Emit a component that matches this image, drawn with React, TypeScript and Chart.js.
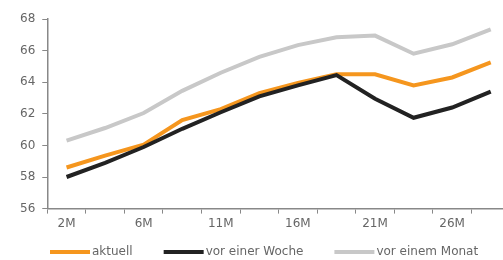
import React, { useEffect, useRef } from "react";
import { Chart, registerables } from "chart.js";

Chart.register(...registerables);

const categories = ["2M", "4M", "6M", "9M", "11M", "14M", "16M", "19M", "21M", "24M", "26M", "29M"];
const aktuell = [58.6, 59.35, 60.05, 61.6, 62.3, 63.3, 63.95, 64.5, 64.5, 63.8, 64.3, 65.25];
const vorEinerWoche = [58.0, 58.9, 59.9, 61.05, 62.1, 63.1, 63.8, 64.45, 62.95, 61.75, 62.4, 63.4];
const vorEinemMonat = [60.3, 61.1, 62.05, 63.45, 64.6, 65.6, 66.35, 66.85, 66.95, 65.8, 66.4, 67.35];
const yTicks = [56, 58, 60, 62, 64, 66, 68];

const FONT_FAMILY = "'DejaVu Sans', sans-serif";

const lineLegend = {
  id: "lineLegend",
  afterDraw(chart: any) {
    const ctx = chart.ctx;
    ctx.save();
    ctx.font = `12px ${FONT_FAMILY}`;
    ctx.textBaseline = "middle";
    ctx.textAlign = "left";
    const y = 252;
    let x = 50;
    chart.data.datasets.forEach((d: any) => {
      ctx.fillStyle = d.borderColor;
      ctx.fillRect(x, y - 2, 40, 4);
      ctx.fillStyle = "#666";
      ctx.fillText(d.label, x + 42, y);
      x += 42 + ctx.measureText(d.label).width + 31;
    });
    ctx.restore();
  },
};

export default function App() {
  const ref = useRef<HTMLCanvasElement | null>(null);
  useEffect(() => {
    if (!ref.current) return;
    const font = { family: FONT_FAMILY, size: 12 };
    const chart = new Chart(ref.current, {
      type: "line",
      data: {
        labels: categories,
        datasets: [
          { label: "aktuell", data: aktuell, borderColor: "#f5961e", backgroundColor: "#f5961e", borderWidth: 4, pointRadius: 0, tension: 0, order: 2 },
          { label: "vor einer Woche", data: vorEinerWoche, borderColor: "#222222", backgroundColor: "#222222", borderWidth: 4, pointRadius: 0, tension: 0, order: 1 },
          { label: "vor einem Monat", data: vorEinemMonat, borderColor: "#c8c8c8", backgroundColor: "#c8c8c8", borderWidth: 4, pointRadius: 0, tension: 0, order: 3 },
        ],
      },
      plugins: [lineLegend],
      options: {
        animation: false,
        responsive: true,
        maintainAspectRatio: false,
        layout: { padding: { left: 13, right: 0, top: 19, bottom: 26 } },
        plugins: {
          tooltip: { enabled: false },
          legend: { display: false },
        },
        scales: {
          x: {
            offset: true,
            grid: { drawOnChartArea: false, offset: true, tickLength: 5, color: "#888", lineWidth: 1 },
            border: { color: "#888", width: 1.5 },
            ticks: {
              font,
              color: "#666",
              autoSkip: false,
              maxRotation: 0,
              padding: 3,
              callback: (_v: any, i: number) => (i % 2 === 0 ? categories[i] : ""),
            },
          },
          y: {
            min: 56,
            max: 68,
            afterBuildTicks: (axis: any) => {
              axis.ticks = yTicks.map((v) => ({ value: v }));
            },
            grid: { drawOnChartArea: false, tickLength: 5, color: "#888", lineWidth: 1 },
            border: { color: "#888", width: 1.5 },
            ticks: { font, color: "#666", padding: 7 },
          },
        },
      },
    });
    return () => chart.destroy();
  }, []);
  return (
    <div style={{ position: "fixed", left: 0, top: 0, width: 510, height: 260, background: "#fff" }}>
      <canvas ref={ref} />
    </div>
  );
}
